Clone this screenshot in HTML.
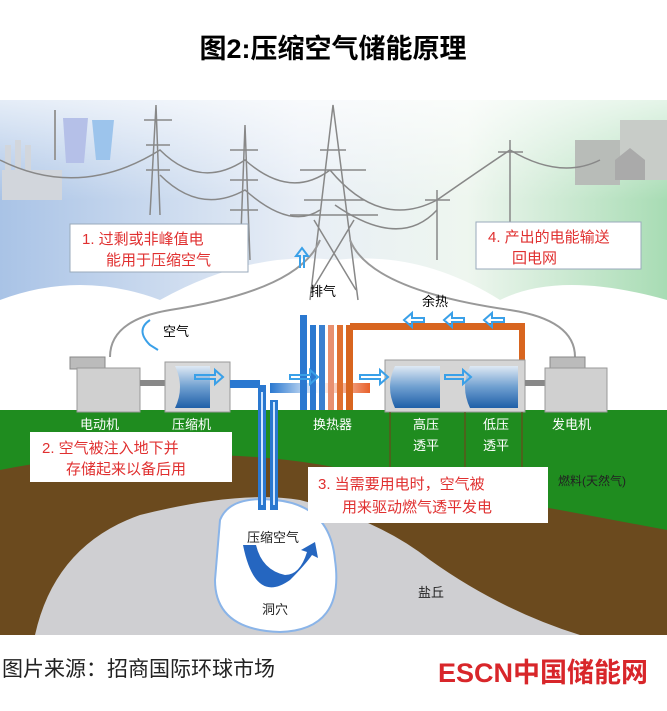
<!DOCTYPE html>
<html><head><meta charset="utf-8"><style>
body{margin:0;background:#fff;width:667px;height:706px;overflow:hidden;font-family:"Liberation Sans","Noto Sans CJK SC",sans-serif}
</style></head><body>
<svg width="667" height="706" viewBox="0 0 667 706" xmlns="http://www.w3.org/2000/svg" font-family="Liberation Sans, Noto Sans CJK SC, sans-serif">
<defs>
<linearGradient id="sky" x1="0" y1="0" x2="1" y2="0">
<stop offset="0" stop-color="#a9c3e6"/><stop offset="0.45" stop-color="#e8eef6"/><stop offset="0.7" stop-color="#eef6ef"/><stop offset="1" stop-color="#a8dcb4"/></linearGradient>
<linearGradient id="skyv" x1="0" y1="0" x2="0" y2="1">
<stop offset="0" stop-color="#fff" stop-opacity="0.7"/><stop offset="0.5" stop-color="#fff" stop-opacity="0"/></linearGradient>
<linearGradient id="mach" x1="0" y1="0" x2="0" y2="1"><stop offset="0" stop-color="#dfe9f4"/><stop offset="0.5" stop-color="#6f9fd0"/><stop offset="1" stop-color="#1f5fa8"/></linearGradient>
<linearGradient id="hot" x1="0" y1="0" x2="1" y2="0"><stop offset="0" stop-color="#2a78d0"/><stop offset="0.5" stop-color="#fff"/><stop offset="1" stop-color="#e8602a"/></linearGradient>
</defs>
<text x="333" y="58" text-anchor="middle" font-size="27" font-weight="bold">图2:压缩空气储能原理</text>
<path d="M0 100H667V300Q560 270 500 300Q420 250 335 260Q250 250 160 300Q80 270 0 300Z" fill="url(#sky)"/>
<path d="M0 100H667V300Q560 270 500 300Q420 250 335 260Q250 250 160 300Q80 270 0 300Z" fill="url(#skyv)"/>
<g fill="#d2d6dc"><rect x="5" y="145" width="6" height="45"/><rect x="15" y="140" width="6" height="50"/><rect x="25" y="145" width="6" height="45"/><rect x="2" y="170" width="60" height="30"/></g>
<path d="M63 118h25l-4 45h-18z" fill="#b5c0e8"/><path d="M92 120h22l-4 40h-14z" fill="#9cc4ec"/>
<line x1="55" y1="160" x2="55" y2="110" stroke="#999" stroke-width="2"/>
<rect x="575" y="140" width="45" height="45" fill="#b8bcb8"/><rect x="620" y="120" width="47" height="60" fill="#c8ccc8"/><path d="M615 160l15-12 15 12v20h-30z" fill="#aaa"/>
<g stroke="#888" stroke-width="1.5" fill="none">
<path d="M160 215L156 105L150 215M158 120h-14h28M158 145h-12h24M158 170h-12h24"/>
<path d="M250 260L245 125L240 260M244 150h-14h28M244 180h-14h28M244 210h-14h28"/>
<path d="M310 300L333 105L358 300M312 290L354 220M356 290L314 220M320 150h26M300 170h66M304 200h60M290 215h88"/>
<path d="M437 260v-70M425 200h25M510 230v-90M498 152h25"/>
<path d="M0 160Q80 200 160 150Q200 190 245 160Q290 200 330 170M160 175Q200 215 245 190Q290 230 320 210M330 170Q380 230 437 200Q480 170 510 150Q560 180 600 160M335 205Q400 250 437 210"/>
</g>
<g stroke="#999" stroke-width="2" fill="none">
<path d="M110 357Q110 320 170 310Q300 290 320 240"/>
<path d="M575 357Q575 320 510 310Q370 290 350 240"/>
</g>
<rect x="70" y="224" width="178" height="48" fill="#fff" stroke="#9ab" stroke-width="1"/>
<text x="82" y="244" font-size="15" fill="#e03030">1. 过剩或非峰值电</text><text x="106" y="265" font-size="15" fill="#e03030">能用于压缩空气</text>
<rect x="476" y="222" width="165" height="47" fill="#fff" stroke="#9ab" stroke-width="1"/>
<text x="488" y="242" font-size="15" fill="#e03030">4. 产出的电能输送</text><text x="512" y="263" font-size="15" fill="#e03030">回电网</text>
<rect x="0" y="410" width="667" height="225" fill="#1f8c1f"/>
<path d="M0 470Q100 450 200 455Q300 455 390 480L560 510L667 530V635H0Z" fill="#6b4a1e"/>
<path d="M35 635Q55 545 140 515Q240 490 300 500Q380 520 430 560Q500 610 580 635Z" fill="#cfcfd2"/>
<path d="M220 520Q230 495 275 500Q330 505 335 560Q345 630 280 632Q215 630 215 580Z" fill="#fff" stroke="#8ab4e8" stroke-width="2"/>
<path d="M243 545Q255 605 290 580Q305 565 312 555l6 3-3-16-14 8 6 2Q300 575 285 575Q262 570 256 545Z" fill="#2566c0"/>
<rect x="258" y="385" width="8" height="125" fill="#2a78d0"/><rect x="270" y="400" width="8" height="110" fill="#2a78d0"/>
<line x1="262" y1="392" x2="262" y2="505" stroke="#cfe6ff" stroke-width="2"/><line x1="274" y1="402" x2="274" y2="505" stroke="#cfe6ff" stroke-width="2"/>
<rect x="70" y="357" width="35" height="12" fill="#bbb" stroke="#888"/><rect x="77" y="368" width="63" height="44" fill="#d0d0d0" stroke="#999"/>
<rect x="140" y="380" width="25" height="6" fill="#888"/>
<rect x="165" y="362" width="65" height="50" fill="#d8d8d8" stroke="#999"/>
<path d="M175 366h35v42h-35q10-21 0-42z" fill="url(#mach)"/>
<path d="M230 380h30v8h-30z" fill="#2a78d0"/>
<path d="M270 383h100v10h-100z" fill="url(#hot)"/>
<g><rect x="300" y="315" width="7" height="95" fill="#2a78d0"/><rect x="310" y="325" width="6" height="85" fill="#2a78d0"/><rect x="319" y="325" width="6" height="85" fill="#3a80d0"/><rect x="328" y="325" width="6" height="85" fill="#e89070"/><rect x="337" y="325" width="6" height="85" fill="#e07030"/><rect x="346" y="325" width="7" height="85" fill="#d8651f"/></g>
<path d="M350 323h175v70h-6v-63h-169z" fill="#d8651f"/>
<rect x="385" y="360" width="140" height="52" fill="#d5d5d5" stroke="#999"/>
<path d="M395 366h45v42h-45q-10-21 0-42z" fill="url(#mach)"/>
<path d="M470 366h48v42h-48q-10-21 0-42z" fill="url(#mach)"/>
<rect x="525" y="380" width="20" height="6" fill="#888"/>
<rect x="550" y="357" width="35" height="12" fill="#bbb" stroke="#888"/><rect x="545" y="368" width="62" height="44" fill="#d0d0d0" stroke="#999"/>
<g fill="none" stroke="#3aa0e8" stroke-width="2">
<path d="M300 268v-12h-4l6-8 6 8h-4v12"/>
<path d="M480 318h12v-5l8 7-8 7v-5h-12z M440 318h12v-5l8 7-8 7v-5h-12z M400 318h12v-5l8 7-8 7v-5h-12z" transform="rotate(180 452 320)"/>
<path d="M150 320q-15 10 0 25l8 5"/>
<path d="M195 375h20v-5l8 7-8 7v-5h-20z M290 375h20v-5l8 7-8 7v-5h-20z M360 375h20v-5l8 7-8 7v-5h-20z M445 375h18v-5l8 7-8 7v-5h-18z"/>
</g>
<text x="310" y="296" font-size="13">排气</text>
<text x="422" y="306" font-size="13">余热</text>
<text x="163" y="336" font-size="13">空气</text>
<g font-size="13" fill="#fff"><text x="80" y="429">电动机</text><text x="172" y="429">压缩机</text><text x="313" y="429">换热器</text><text x="413" y="429">高压</text><text x="413" y="450">透平</text><text x="483" y="429">低压</text><text x="483" y="450">透平</text><text x="552" y="429">发电机</text></g>
<path d="M390 412v66h132v-66" fill="none" stroke="#7a3a1a"/><line x1="465" y1="412" x2="465" y2="478" stroke="#7a3a1a"/>
<text x="558" y="485" font-size="12" fill="#222">燃料(天然气)</text>
<rect x="30" y="432" width="202" height="50" fill="#fff"/>
<text x="42" y="453" font-size="15" fill="#e03030">2. 空气被注入地下并</text><text x="66" y="474" font-size="15" fill="#e03030">存储起来以备后用</text>
<rect x="308" y="467" width="240" height="56" fill="#fff"/>
<text x="318" y="489" font-size="15" fill="#e03030">3. 当需要用电时，空气被</text><text x="342" y="512" font-size="15" fill="#e03030">用来驱动燃气透平发电</text>
<text x="247" y="542" font-size="13" fill="#222">压缩空气</text>
<text x="262" y="614" font-size="13" fill="#222">洞穴</text>
<text x="418" y="597" font-size="13" fill="#222">盐丘</text>
<text x="2" y="676" font-size="21" fill="#222">图片来源：招商国际环球市场</text>
<text x="438" y="682" font-size="27" font-weight="bold" fill="#d8262a">ESCN中国储能网</text>
</svg>
</body></html>
